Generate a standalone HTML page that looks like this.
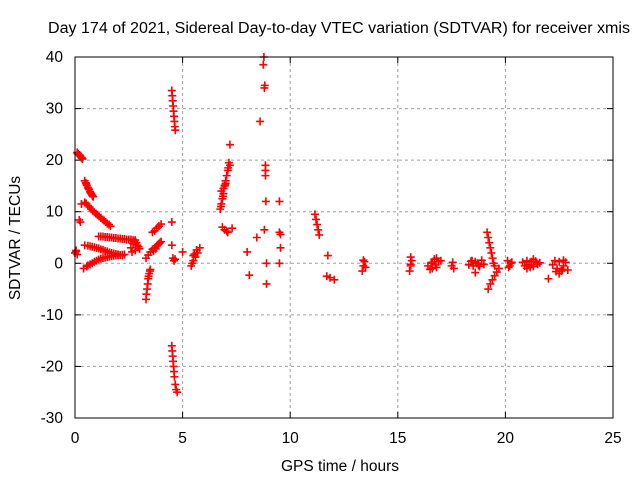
<!DOCTYPE html>
<html><head><meta charset="utf-8"><style>
body{margin:0;background:#fff}
svg text{font-family:"Liberation Sans",sans-serif;font-size:15.5px;fill:#000}
</style></head><body>
<svg id="c" width="640" height="480" xmlns="http://www.w3.org/2000/svg">
<rect width="640" height="480" fill="#fff"/>
<text x="339" y="33" text-anchor="middle" textLength="582" lengthAdjust="spacingAndGlyphs">Day 174 of 2021, Sidereal Day-to-day VTEC variation (SDTVAR) for receiver xmis</text>
<text x="340" y="471" text-anchor="middle">GPS time / hours</text>
<text transform="translate(20,238) rotate(-90)" text-anchor="middle">SDTVAR / TECUs</text>
<g id="grid"></g><g id="ticks"></g><g id="pts"></g>
<rect x="75" y="57" width="538" height="361" fill="none" stroke="#000" stroke-width="1"/>
</svg>
<script>
const xTicks=[0,5,10,15,20,25];
const yTicks=[-30,-20,-10,0,10,20,30,40];
const ptX=[0.05,0.1,0.15,0.2,0.25,0.3,0.35,0.12,0.22,0.32,
0.45,0.5,0.55,0.6,0.65,0.7,0.75,0.8,0.85,0.52,0.62,0.72,0.82,
0.3,0.45,0.6,0.75,0.9,1.05,1.2,1.35,1.5,1.65,0.52,0.68,0.82,0.98,1.12,1.28,1.42,1.58,
0.2,0.25,
1.1,1.3,1.5,1.7,1.9,2.1,2.3,2.5,2.7,1.2,1.4,1.6,1.8,2.0,2.2,2.4,
0.45,0.6,0.8,1.0,1.2,1.4,1.6,1.8,2.0,2.2,0.7,0.9,1.1,1.3,1.5,1.7,1.9,2.1,
0.4,0.55,0.7,0.9,1.1,1.3,1.5,1.7,1.9,2.1,2.3,0.6,0.8,1.0,1.2,1.4,1.6,1.8,2.0,2.2,
0.0,0.05,0.1,
2.6,2.7,2.8,2.9,3.0,2.65,2.85,2.75,2.95,2.6,2.8,
3.3,3.32,3.35,3.38,3.4,3.42,3.45,3.48,3.5,
3.3,3.4,3.5,3.6,3.7,3.8,3.9,4.0,3.75,3.85,3.65,3.95,
3.6,3.7,3.8,3.9,4.0,
4.5,4.5,4.55,4.6,4.65,
4.5,4.52,4.54,4.56,4.58,4.6,4.62,4.64,4.66,
4.5,4.52,4.54,4.56,4.58,4.6,4.62,4.66,4.7,4.75,
5.0,5.4,5.5,5.6,5.7,5.8,5.5,5.65,5.45,5.55,
6.75,6.8,6.85,6.9,6.95,7.0,7.05,6.8,6.9,7.1,7.2,7.15,7.2,7.0,6.78,6.88,6.98,7.12,
6.85,6.95,7.1,7.3,7.05,
8.0,8.1,8.45,8.6,8.75,8.78,8.8,8.82,8.85,8.85,8.85,8.87,8.8,8.9,8.9,
9.5,9.5,9.55,9.55,9.5,
11.15,11.2,11.25,11.3,11.35,11.7,11.75,11.85,12.05,
13.35,13.4,13.45,13.5,13.4,
15.55,15.6,15.65,15.6,15.6,
16.4,16.5,16.6,16.7,16.8,16.9,17.0,16.6,16.8,16.55,16.75,
17.5,17.55,17.6,
18.3,18.4,18.5,18.6,18.7,18.8,18.9,19.0,18.6,18.45,18.75,
19.15,19.2,19.25,19.3,19.35,19.4,19.45,19.5,
19.2,19.3,19.4,19.5,19.6,19.7,
20.1,20.2,20.3,20.15,20.25,
20.8,20.9,21.0,21.1,21.2,21.3,21.4,21.5,21.6,21.0,21.3,21.15,21.45,
22.0,22.2,22.3,22.4,22.5,22.6,22.7,22.8,22.9,22.5,22.7,22.35,22.65];
const ptY=[2.5,21.5,21.2,21,20.8,20.5,20.2,21.3,20.9,20.4,
16,15.6,15.1,14.7,14.3,13.9,13.5,13.2,12.9,15.4,14.5,13.7,13.0,
11.5,11.8,11.2,10.5,9.9,9.4,8.8,8.3,7.7,7.2,11.6,10.9,10.2,9.6,9.1,8.5,8.0,7.5,
8.4,8.0,
5.2,5.2,5.1,5.0,4.9,4.8,4.7,4.6,4.5,5.2,5.1,5.0,4.9,4.8,4.7,4.6,
3.5,3.4,3.2,3.0,2.7,2.4,2.1,1.9,1.7,1.5,3.3,3.1,2.9,2.6,2.3,2.0,1.8,1.6,
-1.0,-0.6,-0.2,0.3,0.7,1.0,1.2,1.4,1.5,1.6,1.7,-0.4,0.0,0.5,0.9,1.1,1.3,1.45,1.55,1.65,
2.0,2.3,1.7,
3.0,3.8,4.5,3.5,2.8,2.2,4.0,4.2,3.2,4.6,2.5,
-7,-6,-5,-4,-3,-2.5,-2,-1.5,-1.2,
1.0,1.6,2.2,2.7,3.0,3.4,3.8,4.2,2.8,3.6,2.4,4.0,
6.0,6.3,6.8,7.2,7.6,
8.0,3.5,1.0,0.5,0.8,
33.5,32.5,31.5,30.5,29.5,28.5,27.5,26.5,25.8,
-16,-17,-18,-19,-20,-21,-22,-23.5,-24.5,-25,
2.2,-0.5,0.5,1.2,2.0,3.0,1.5,2.6,0,1.8,
10.5,11.5,12.5,13.5,15,16,17,14,14.5,18,19,19.5,23,15.5,11,13,15.2,18.5,
7.0,6.5,6.0,6.8,6.2,
2.2,-2.3,5.0,27.5,38.5,40,34,34.5,19,18,17,12,6.5,-4,0,
12,6,5.6,3,0,
9.5,8.5,7.5,6.5,5.5,-2.5,1.5,-2.8,-3.2,
-1.5,-0.5,0.3,-0.8,0.6,
-1.5,-0.5,0.5,1.2,-0.2,
-0.5,-1.2,0.2,0.8,-0.8,0.3,0.5,-1.0,1.0,0,-0.3,
-0.5,0.2,-1.0,
-0.3,0.4,-0.5,0.3,0,-0.6,0.6,-0.2,-1.8,0.5,-0.4,
6,5,4,3,2,1,0,-0.5,
-5,-4,-3.2,-2.4,-1.7,-1.0,
0.5,-0.5,0.2,-0.8,0,
0.2,-0.5,0.5,-0.3,0.3,-0.6,0.4,-0.2,0.1,-1.0,0.8,-0.8,0,
-3,-0.3,0.5,-1.0,0.3,-1.5,-0.5,0.2,-1.3,-2.0,0.6,-1.6,-1.2];
const X0=75,X1=613,Y0=418,Y1=57;
const xs=v=>X0+(v-0)/(25-0)*(X1-X0);
const ys=v=>Y0-(v+30)/(40+30)*(Y0-Y1);
const NS='http://www.w3.org/2000/svg';
const grid=document.getElementById('grid'),ticks=document.getElementById('ticks'),pts=document.getElementById('pts');
function mk(tag,at,parent){const e=document.createElementNS(NS,tag);for(const k in at)e.setAttribute(k,at[k]);parent.appendChild(e);return e;}
xTicks.forEach(t=>{const x=xs(t);
 if(t>0&&t<25){const g=mk('line',{x1:x,x2:x,y1:Y1,y2:Y0,stroke:'#a0a0a0','stroke-dasharray':'3,3'},grid);
 
 }
 mk('line',{x1:x,x2:x,y1:Y0,y2:Y0-6,stroke:'#000'},ticks);
 mk('line',{x1:x,x2:x,y1:Y1,y2:Y1+6,stroke:'#000'},ticks);
 const tx=mk('text',{x:x,y:443,'text-anchor':'middle'},ticks);tx.textContent=t;
 
 });
yTicks.forEach(t=>{const y=ys(t);
 if(t>-30&&t<40){const g=mk('line',{x1:X0,x2:X1,y1:y,y2:y,stroke:'#a0a0a0','stroke-dasharray':'3,3'},grid);
 
 }
 mk('line',{x1:X0,x2:X0+6,y1:y,y2:y,stroke:'#000'},ticks);
 mk('line',{x1:X1,x2:X1-6,y1:y,y2:y,stroke:'#000'},ticks);
 const tx=mk('text',{x:63,y:y+5,'text-anchor':'end'},ticks);tx.textContent=t;
 
 });
ptX.forEach((v,i)=>{const x=xs(v),y=ys(ptY[i]);
 const p=mk('path',{d:`M${x-4},${y}h8M${x},${y-4}v8`,stroke:'#f00','stroke-width':'1.6',fill:'none'},pts);
 
 });
</script>
</body></html>
